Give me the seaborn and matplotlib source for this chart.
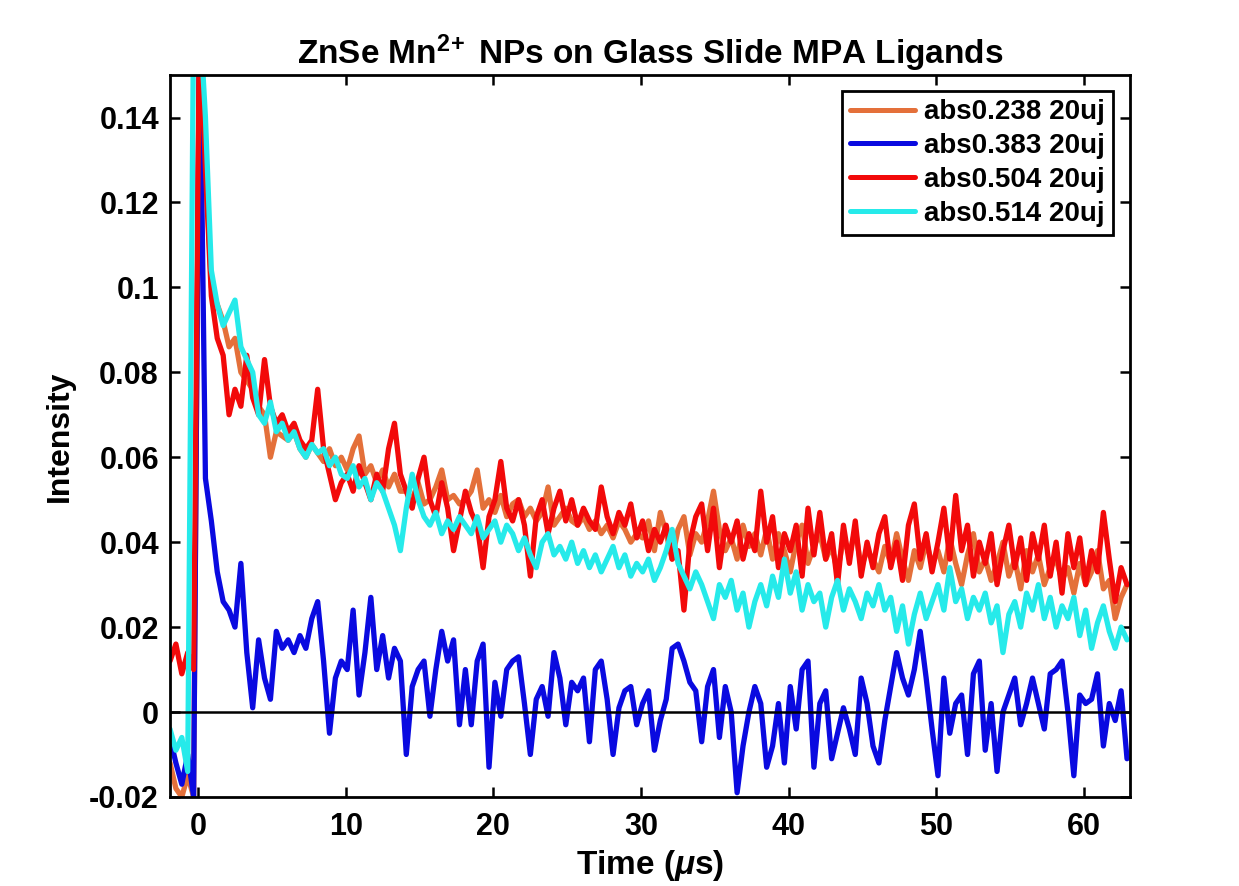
import numpy as np
import pandas as pd
import matplotlib
matplotlib.use("Agg")
import matplotlib.pyplot as plt
import seaborn as sns
from matplotlib.ticker import FixedLocator, FuncFormatter
from matplotlib.lines import Line2D

# ---------------- data (intensity values in units of 1e-3) ----------------
time_start = -1.9      # µs, first sample
time_step = 0.4        # µs, sample spacing

series_labels = ["abs0.238 20uj", "abs0.383 20uj", "abs0.504 20uj", "abs0.514 20uj"]
series_colors = ["#E4703A", "#0A0AE0", "#F20A0A", "#26EAEA"]

abs0238_milli = [
    -12, -18, -20, -15, -20, 165, 130, 100, 96, 92,
    86, 88, 80, 78, 76, 72, 70, 60, 66, 65,
    64, 66, 62, 60, 63, 61, 59, 62, 58, 60,
    57, 62, 65, 56, 58, 54, 57, 53, 56, 52,
    52, 50, 54, 49, 50, 53, 57, 50, 51, 49,
    50, 52, 57, 48, 50, 47, 51, 46, 49, 50,
    46, 48, 45, 47, 53, 44, 46, 48, 45, 44,
    46, 43, 45, 42, 44, 41, 45, 43, 40, 42,
    41, 45, 38, 47, 42, 36, 43, 46, 37, 42,
    40, 45, 52, 43, 38, 41, 36, 44, 39, 42,
    37, 43, 36, 42, 38, 33, 40, 44, 35, 39,
    42, 36, 39, 33, 41, 37, 43, 34, 38, 36,
    33, 39, 35, 42, 36, 31, 38, 34, 40, 35,
    38, 33, 41, 35, 30, 37, 42, 33, 36, 31,
    35, 40, 32, 36, 29, 38, 33, 37, 30, 34,
    36, 31, 34, 28, 35, 30, 33, 38, 29, 31,
    22, 27, 30,
]

abs0383_milli = [
    -6, -12, -17, -10, -20, 165, 55, 45, 33, 26,
    24, 20, 35, 14, 1, 17, 8, 3, 19, 15,
    17, 14, 18, 15, 22, 26, 12, -5, 8, 12,
    10, 24, 4, 14, 27, 10, 18, 8, 15, 12,
    -10, 6, 10, 12, -1, 10, 19, 12, 17, -3,
    10, -3, 12, 16, -13, 7, -1, 10, 12, 13,
    2, -10, 3, 6, -1, 14, 8, -3, 7, 5,
    8, -7, 10, 12, 3, -10, 1, 5, 6, -3,
    2, 5, -9, -2, 3, 15, 16, 12, 7, 5,
    -7, 6, 10, -6, 6, 0, -19, -8, 0, 6,
    2, -13, -8, 2, -12, 6, -4, 10, 12, -13,
    2, 5, -11, -5, 1, -4, -10, 8, 2, -8,
    -12, -2, 6, 14, 8, 4, 10, 19, 8, -4,
    -15, 8, -5, 2, 4, -10, 9, 12, -9, 2,
    -14, 0, 4, 8, -3, 2, 8, 2, -4, 9,
    10, 12, 0, -15, 4, 2, 3, 9, -8, 2,
    -2, 5, -11,
]

abs0504_milli = [
    12, 16, 9, 14, 10, 165, 128, 98, 88, 84,
    70, 76, 72, 84, 74, 70, 83, 72, 68, 70,
    66, 68, 64, 62, 64, 76, 62, 56, 50, 54,
    56, 52, 58, 54, 50, 56, 52, 62, 68, 56,
    52, 48, 55, 60, 50, 46, 54, 48, 38, 45,
    52, 47, 44, 34, 46, 50, 59, 48, 45, 50,
    44, 32, 46, 50, 42, 48, 52, 45, 50, 44,
    48, 45, 43, 53, 46, 42, 47, 44, 49, 41,
    45, 38, 43, 40, 44, 36, 38, 24, 40, 46,
    49, 38, 48, 34, 44, 40, 45, 36, 42, 38,
    52, 40, 46, 34, 42, 38, 44, 32, 48, 37,
    47, 36, 42, 30, 44, 35, 45, 32, 40, 34,
    42, 46, 34, 40, 31, 44, 49, 36, 42, 33,
    40, 48, 36, 51, 38, 44, 32, 40, 35, 42,
    30, 38, 44, 34, 41, 31, 42, 36, 44, 32,
    40, 28, 42, 34, 41, 30, 38, 33, 47, 36,
    26, 34, 30,
]

abs0514_milli = [
    -4, -9, -6, -14, 165, 165, 140, 104, 96, 91,
    94, 97, 86, 83, 80, 70, 68, 73, 66, 68,
    64, 66, 62, 60, 63, 61, 62, 58, 60, 56,
    55, 58, 53, 55, 50, 54, 52, 48, 44, 38,
    48, 56, 50, 46, 44, 47, 42, 45, 43, 46,
    44, 42, 46, 41, 43, 45, 40, 44, 42, 38,
    41, 37, 34, 40, 42, 37, 39, 36, 40, 35,
    38, 34, 37, 33, 36, 39, 34, 37, 32, 35,
    33, 36, 31, 34, 38, 43, 35, 32, 29, 33,
    30, 26, 22, 30, 27, 31, 24, 28, 20, 26,
    30, 25, 32, 27, 36, 28, 33, 24, 30, 26,
    28, 20, 27, 31, 24, 29, 26, 22, 28, 25,
    30, 24, 27, 19, 25, 16, 23, 28, 22, 26,
    30, 24, 34, 26, 29, 22, 27, 24, 28, 21,
    25, 14, 23, 26, 20, 28, 24, 30, 22, 27,
    20, 25, 22, 27, 18, 24, 15, 21, 25, 19,
    15, 20, 17,
]

x_ticks = [0, 10, 20, 30, 40, 50, 60]
y_ticks = [-0.02, 0, 0.02, 0.04, 0.06, 0.08, 0.10, 0.12, 0.14]

# ---------------- build long-form table ----------------
all_series = [abs0238_milli, abs0383_milli, abs0504_milli, abs0514_milli]
frames = []
for label, vals in zip(series_labels, all_series):
    n = len(vals)
    t = time_start + time_step * np.arange(n)
    frames.append(pd.DataFrame({"time": t,
                                "intensity": np.asarray(vals, float) / 1000.0,
                                "sample": label}))
df = pd.concat(frames, ignore_index=True)

# ---------------- style ----------------
sns.set_theme(style="white")
plt.rcParams["font.family"] = ["Liberation Sans", "DejaVu Sans"]
plt.rcParams["font.weight"] = "bold"
plt.rcParams["text.color"] = "black"
plt.rcParams["axes.labelcolor"] = "black"
plt.rcParams["mathtext.fontset"] = "custom"
plt.rcParams["mathtext.rm"] = "Liberation Sans:bold"
plt.rcParams["mathtext.bf"] = "Liberation Sans:bold"
plt.rcParams["mathtext.it"] = "Liberation Sans:italic"
plt.rcParams["mathtext.default"] = "rm"

fig = plt.figure(figsize=(12.39, 8.86), dpi=100)
ax = fig.add_axes([0.1372, 0.1005, 0.7748, 0.8148])

palette = dict(zip(series_labels, series_colors))
sns.lineplot(data=df, x="time", y="intensity", hue="sample",
             hue_order=series_labels, palette=palette, estimator=None,
             linewidth=3.8, legend=False, ax=ax)

ax.axhline(0, color="black", linewidth=1.8, zorder=5)

ax.set_xlim(-1.9, 63.1)
ax.set_ylim(-0.02, 0.15)
ax.xaxis.set_major_locator(FixedLocator(x_ticks))
ax.yaxis.set_major_locator(FixedLocator(y_ticks))
ax.yaxis.set_major_formatter(FuncFormatter(lambda v, p: f"{v:g}"))
ax.xaxis.set_major_formatter(FuncFormatter(lambda v, p: f"{v:g}"))

for s in ax.spines.values():
    s.set_color("black")
    s.set_linewidth(2.0)
    s.set_visible(True)

ax.tick_params(axis="both", which="major", direction="in", length=7, width=1.8,
               colors="black", labelsize=22, top=True, right=True,
               bottom=True, left=True)
ax.tick_params(axis="x", pad=11)
ax.tick_params(axis="y", pad=8)
for lab in ax.get_xticklabels() + ax.get_yticklabels():
    lab.set_fontweight("bold")

ax.set_title(r"ZnSe $\mathrm{Mn}^{2\!+}$ NPs on Glass Slide MPA Ligands",
             fontsize=24, fontweight="bold", pad=8, color="black")
ax.set_xlabel(r"Time ($\mathit{\mu}$s)", fontsize=24, fontweight="bold",
              labelpad=4, color="black")
ax.set_ylabel("Intensity", fontsize=23, fontweight="bold", labelpad=10,
              color="black")

handles = [Line2D([0], [0], color=c, linewidth=3.6) for c in series_colors]
leg = ax.legend(handles, series_labels, loc="upper right",
                bbox_to_anchor=(1113 / 1239, 1 - 91 / 886),
                bbox_transform=fig.transFigure, borderaxespad=0,
                fontsize=20, frameon=True, fancybox=False, framealpha=1,
                edgecolor="black", handlelength=2.35, handletextpad=0.3,
                labelspacing=0.28, borderpad=0.3)
leg.get_frame().set_linewidth(2.0)
for txt in leg.get_texts():
    txt.set_fontweight("bold")
    txt.set_color("black")

fig.savefig("out.png", dpi=100, facecolor="white")
